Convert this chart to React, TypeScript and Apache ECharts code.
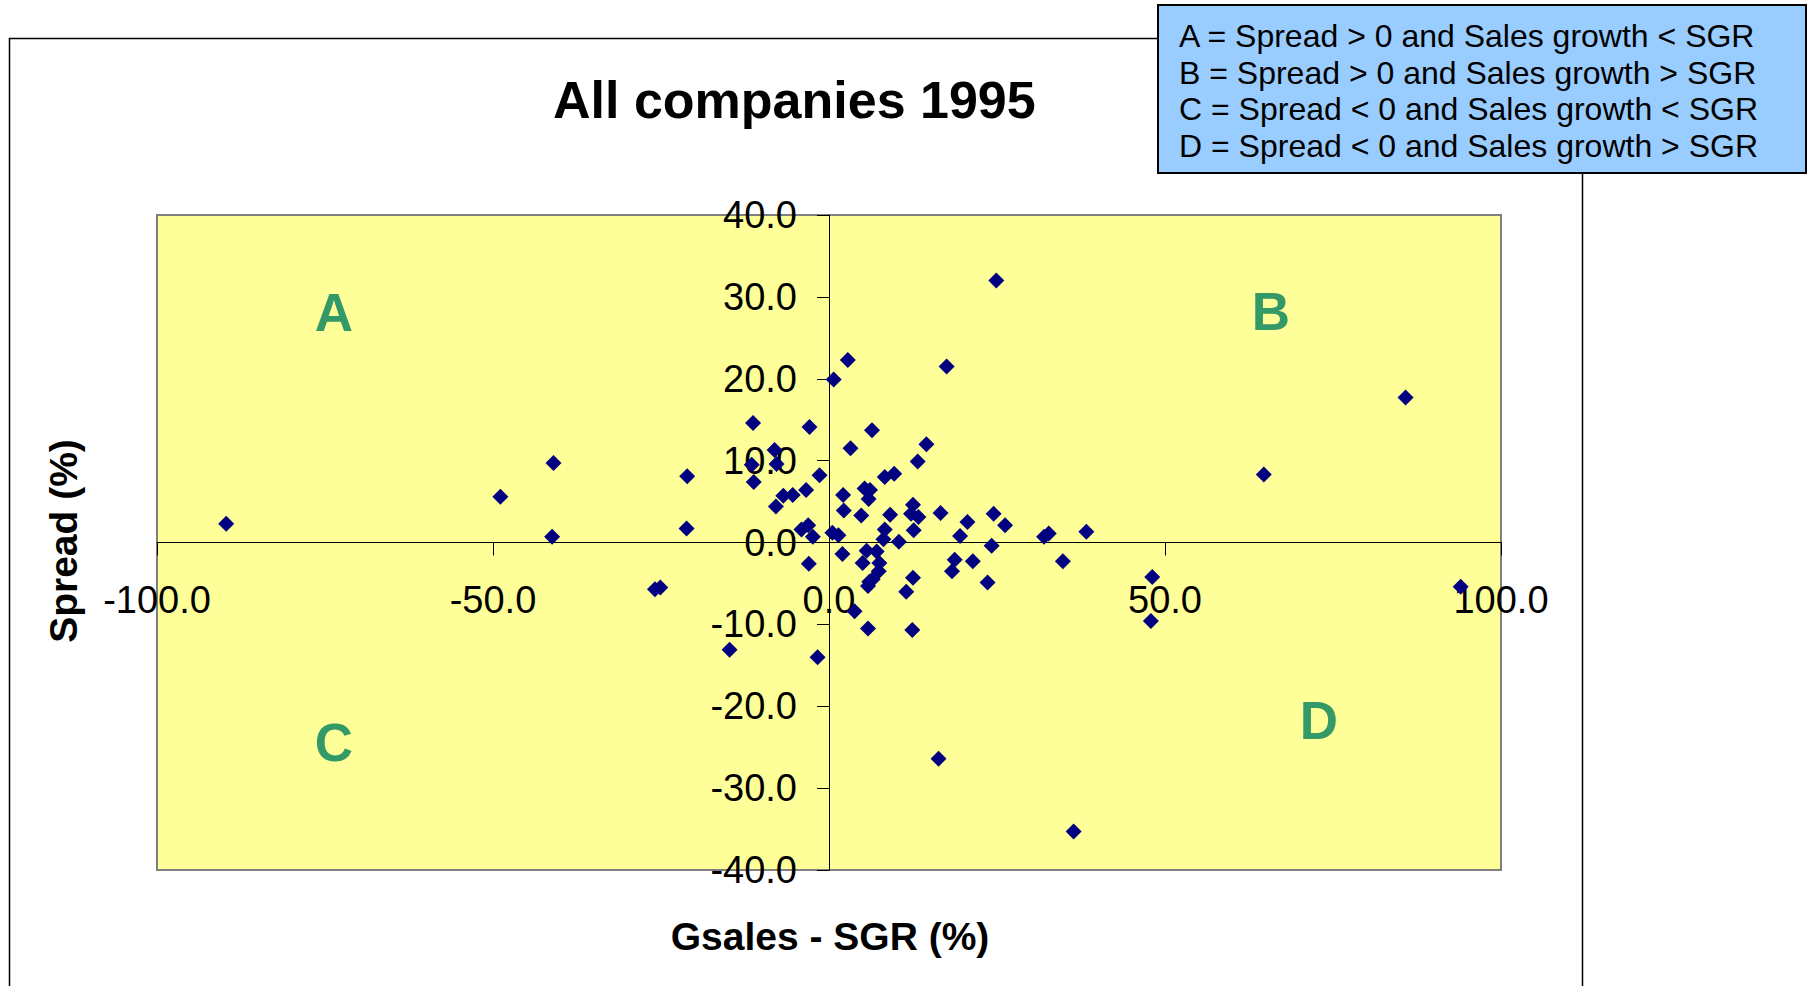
import React, { useEffect, useRef } from "react";
import * as echarts from "echarts";

// Gsales - SGR (%) for each company
const gsalesMinusSgr = [
  -89.7, -48.9, -41.0, -41.2, -25.9, -25.1, -21.1, -21.2, -14.8, -1.7,
  24.9, 2.8, 0.7, 17.5, -11.3, -2.9, 6.4, 3.2, 14.5, 13.2,
  -8.1, -7.8, -11.5, -11.2, -1.4, 8.3, 9.7, -6.8, -5.4, -3.4,
  -7.9, 2.1, 2.2, 4.8, 5.3, 6.1, 5.9, 9.1, 12.5, 12.2,
  13.3, 16.6, 20.6, 24.5, 26.2, -4.1, -3.1, -2.4, 0.5, 1.4,
  8.3, 8.1, 12.6, 19.5, 10.4, 24.2, 32.0, 32.7, 38.3, 85.8,
  64.7, 34.8, 48.1, 47.9, 94.0, -3.0, 2.0, 5.0, 5.6, 7.1,
  7.5, 7.4, 6.0, 6.5, 5.8, 18.7, 18.3, 21.4, 23.6, 12.5,
  11.5, 3.8, 5.8, 12.4, 16.3, 36.4,
];

// Spread (%) for each company
const spread = [
  2.3, 5.6, 9.7, 0.7, -5.7, -5.5, 8.1, 1.7, -13.1, -14.0,
  32.0, 22.3, 19.9, 21.5, 14.6, 14.1, 13.7, 11.5, 12.0, 9.9,
  11.3, 9.6, 9.5, 7.4, 8.2, 8.0, 8.4, 5.7, 5.8, 6.4,
  4.4, 5.8, 3.9, 3.3, 6.6, 6.4, 5.3, 3.4, 4.6, 3.5,
  3.1, 3.6, 2.5, 3.5, 2.1, 1.6, 2.1, 0.7, 1.2, 0.9,
  1.6, 0.4, 1.5, 0.8, 0.1, -0.4, 0.7, 1.1, 1.3, 17.7,
  8.3, -2.3, -4.2, -9.6, -5.4, -2.6, -1.4, -2.5, -1.0, -1.1,
  -2.5, -3.5, -4.8, -4.5, -5.3, -2.1, -3.5, -2.3, -4.9, -4.3,
  -6.0, -8.4, -10.5, -10.7, -26.4, -35.3,
];

const xMin = -100;
const xMax = 100;
const xStep = 50;
const yMin = -40;
const yMax = 40;
const yStep = 10;

const chartTitle = "All companies 1995";
const xAxisTitle = "Gsales - SGR (%)";
const yAxisTitle = "Spread (%)";
const quadrantLetters = ["A", "B", "C", "D"];
const legendLines = [
  "A = Spread > 0 and Sales growth < SGR",
  "B = Spread > 0 and Sales growth > SGR",
  "C = Spread < 0 and Sales growth < SGR",
  "D = Spread < 0 and Sales growth > SGR",
];

const FONT = '"Liberation Sans", Arial, Helvetica, sans-serif';

export default function App() {
  const ref = useRef<HTMLDivElement>(null);

  useEffect(() => {
    if (!ref.current) return;
    const chart = echarts.init(ref.current, null, { renderer: "svg" });
    const points = gsalesMinusSgr.map((x, i) => [x, spread[i]]);

    const gridLeft = 157;
    const gridTop = 215;
    const gridW = 1344;
    const gridH = 655;
    // place the axes (line, ticks, labels) through the origin, like Excel
    const xAxisOffset = -gridH * ((0 - yMin) / (yMax - yMin));
    const yAxisOffset = -gridW * ((0 - xMin) / (xMax - xMin));

    const letterPos = [
      [334, 312],
      [1271, 311],
      [334, 742],
      [1319, 720],
    ];
    const legendY = [36, 72.5, 109, 145.5];

    chart.setOption({
      animation: false,
      backgroundColor: "#ffffff",
      title: {
        text: chartTitle,
        left: 553,
        top: 74,
        padding: 0,
        textStyle: {
          fontFamily: FONT,
          fontSize: 52,
          fontWeight: "bold",
          color: "#000000",
        },
      },
      grid: {
        left: gridLeft,
        top: gridTop,
        width: gridW,
        height: gridH,
        show: true,
        backgroundColor: "#FFFF99",
        borderColor: "#808080",
        borderWidth: 2,
      },
      xAxis: {
        type: "value",
        position: "bottom",
        offset: xAxisOffset,
        min: xMin,
        max: xMax,
        interval: xStep,
        axisLine: { onZero: false, lineStyle: { color: "#000000", width: 1 } },
        axisTick: { show: true, length: 13, lineStyle: { color: "#000000", width: 1 } },
        axisLabel: {
          formatter: (v: number) => v.toFixed(1),
          fontFamily: FONT,
          fontSize: 38,
          color: "#000000",
          margin: 38,
        },
        splitLine: { show: false },
      },
      yAxis: {
        type: "value",
        position: "left",
        offset: yAxisOffset,
        min: yMin,
        max: yMax,
        interval: yStep,
        axisLine: { onZero: false, lineStyle: { color: "#000000", width: 1 } },
        axisTick: { show: true, length: 12, lineStyle: { color: "#000000", width: 1 } },
        axisLabel: {
          formatter: (v: number) => v.toFixed(1),
          fontFamily: FONT,
          fontSize: 38,
          color: "#000000",
          margin: 32,
        },
        splitLine: { show: false },
      },
      series: [
        {
          type: "scatter",
          name: "Companies",
          symbol: "diamond",
          symbolSize: 16,
          itemStyle: { color: "#000080", opacity: 1 },
          data: points,
          z: 3,
        },
      ],
      graphic: [
        {
          type: "rect",
          silent: true,
          z: 1,
          shape: { x: 9.5, y: 38.5, width: 1573, height: 1000 },
          style: { fill: "none", stroke: "#000000", lineWidth: 1.5 },
        },
        {
          type: "text",
          silent: true,
          z: 50,
          x: 63.5,
          y: 541,
          rotation: Math.PI / 2,
          style: {
            text: yAxisTitle,
            font: `bold 39px ${FONT}`,
            fill: "#000000",
            align: "center",
            verticalAlign: "middle",
          },
        },
        {
          type: "text",
          silent: true,
          z: 50,
          x: 830,
          y: 936,
          style: {
            text: xAxisTitle,
            font: `bold 39px ${FONT}`,
            fill: "#000000",
            align: "center",
            verticalAlign: "middle",
          },
        },
        ...quadrantLetters.map((l, i) => ({
          type: "text",
          silent: true,
          z: 50,
          x: letterPos[i][0],
          y: letterPos[i][1],
          style: {
            text: l,
            font: `bold 53px ${FONT}`,
            fill: "#339966",
            align: "center",
            verticalAlign: "middle",
          },
        })),
        {
          type: "rect",
          silent: true,
          z: 60,
          shape: { x: 1158, y: 5, width: 648, height: 168 },
          style: { fill: "#99CCFF", stroke: "#000000", lineWidth: 2 },
        },
        ...legendLines.map((t, i) => ({
          type: "text",
          silent: true,
          z: 61,
          x: 1179,
          y: legendY[i],
          style: {
            text: t,
            font: `32px ${FONT}`,
            fill: "#000000",
            align: "left",
            verticalAlign: "middle",
          },
        })),
      ],
    });

    return () => chart.dispose();
  }, []);

  return (
    <div
      ref={ref}
      style={{ position: "absolute", left: 0, top: 0, width: 1812, height: 986 }}
    />
  );
}
